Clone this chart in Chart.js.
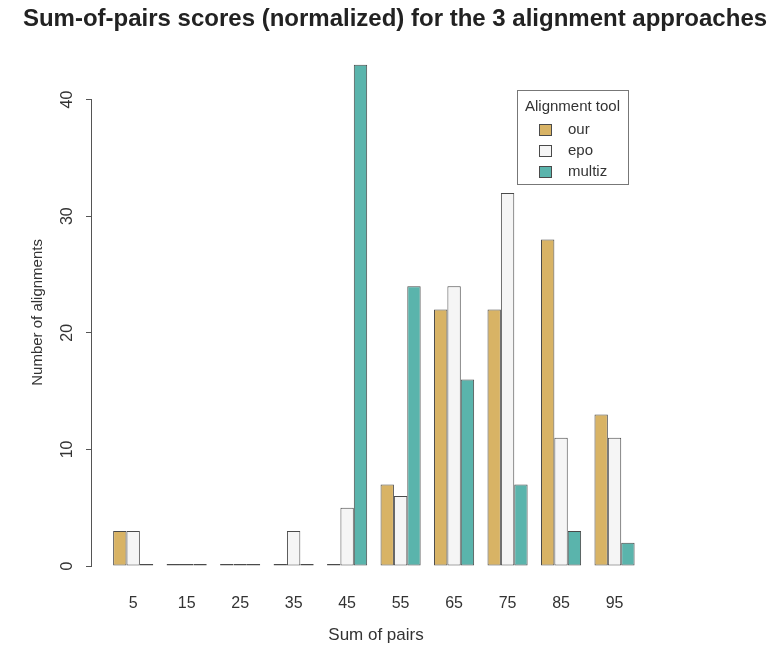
<!DOCTYPE html>
<html>
<head>
<meta charset="utf-8">
<script src="https://cdn.jsdelivr.net/npm/chart.js@4.4.1/dist/chart.umd.min.js"></script>
<style>
  html, body { margin: 0; padding: 0; background: #fff; }
  #wrap { width: 770px; height: 647px; }
</style>
</head>
<body>
<div id="wrap"><canvas id="spChart" width="770" height="647"></canvas></div>
<script>
// values
const sumBins = [5, 15, 25, 35, 45, 55, 65, 75, 85, 95];
const ourCounts = [3, 0, 0, 0, 0, 7, 22, 22, 28, 13];
const epoCounts = [3, 0, 0, 3, 5, 6, 24, 32, 11, 11];
const multizCounts = [0, 0, 0, 0, 43, 24, 16, 7, 3, 2];
const yTicks = [0, 10, 20, 30, 40];
const toolNames = ['our', 'epo', 'multiz'];
const toolColors = ['#D8B365', '#F5F5F5', '#5AB4AC'];

const FONT = "'Liberation Sans', Arial, sans-serif";
const edge = '#4a4a4a';

// R style y axis line: only from first to last tick
const axisLine = {
    id: 'axisLine',
    afterDraw(chart) {
        const y = chart.scales.y;
        const ctx = chart.ctx;
        ctx.save();
        ctx.strokeStyle = '#555';
        ctx.lineWidth = 1;
        ctx.beginPath();
        ctx.moveTo(y.right - 0.5, y.getPixelForValue(yTicks[0]));
        ctx.lineTo(y.right - 0.5, y.getPixelForValue(yTicks[yTicks.length - 1]));
        ctx.stroke();
        ctx.restore();
    }
};

// boxed legend with title, like R legend()
const boxLegend = {
    id: 'boxLegend',
    afterDraw(chart) {
        const ctx = chart.ctx;
        const left = 517, top = 90, w = 111, h = 94;
        ctx.save();
        ctx.strokeStyle = '#777';
        ctx.lineWidth = 1;
        ctx.strokeRect(left + 0.5, top + 0.5, w, h);
        ctx.fillStyle = '#333';
        ctx.font = '15px ' + FONT;
        ctx.textAlign = 'center';
        ctx.textBaseline = 'middle';
        ctx.fillText('Alignment tool', left + w / 2, top + 17);
        ctx.textAlign = 'left';
        chart.data.datasets.forEach((ds, i) => {
            const cy = top + 40 + i * 21;
            ctx.fillStyle = ds.backgroundColor;
            ctx.fillRect(539, cy - 6, 13, 12);
            ctx.strokeStyle = edge;
            ctx.strokeRect(539.5, cy - 5.5, 12, 11);
            ctx.fillStyle = '#333';
            ctx.fillText(ds.label, 568, cy);
        });
        ctx.restore();
    }
};

const datasets = [ourCounts, epoCounts, multizCounts].map((vals, i) => ({
    label: toolNames[i],
    data: vals,
    backgroundColor: toolColors[i],
    borderColor: edge,
    borderWidth: 1,
    borderSkipped: false,
    minBarLength: 2,
    clip: false
}));

new Chart(document.getElementById('spChart'), {
    type: 'bar',
    data: { labels: sumBins, datasets: datasets },
    plugins: [axisLine, boxLegend],
    options: {
        responsive: false,
        animation: false,
        categoryPercentage: 0.75,
        barPercentage: 1,
        layout: { padding: { left: 20, right: 0, top: 0, bottom: 0 } },
        plugins: {
            legend: { display: false },
            tooltip: { enabled: false },
            title: {
                display: true,
                text: 'Sum-of-pairs scores (normalized) for the 3 alignment approaches',
                color: '#222',
                font: { family: FONT, size: 24, weight: 'bold' },
                padding: { top: 5, bottom: 25 }
            }
        },
        scales: {
            x: {
                type: 'linear',
                offset: false,
                min: -2.7,
                max: 103.5,
                grid: { display: false },
                border: { display: false },
                afterBuildTicks: (s) => { s.ticks = sumBins.map(v => ({ value: v })); },
                afterFit: (s) => { s.height = 81; },
                ticks: {
                    color: '#333',
                    padding: 20,
                    autoSkip: false,
                    maxRotation: 0,
                    font: { family: FONT, size: 16 }
                },
                title: {
                    display: true,
                    text: 'Sum of pairs',
                    color: '#333',
                    font: { family: FONT, size: 17 },
                    padding: { top: 0, bottom: 1 }
                }
            },
            y: {
                min: 0,
                max: 43.5,
                border: { display: false },
                grid: {
                    drawOnChartArea: false,
                    drawTicks: true,
                    tickLength: 6,
                    color: '#555'
                },
                afterBuildTicks: (s) => { s.ticks = yTicks.map(v => ({ value: v })); },
                afterFit: (s) => { s.width = 72; },
                ticks: {
                    color: '#333',
                    padding: 10,
                    minRotation: 90,
                    maxRotation: 90,
                    crossAlign: 'center',
                    autoSkip: false,
                    font: { family: FONT, size: 16 }
                },
                title: {
                    display: true,
                    text: 'Number of alignments',
                    color: '#333',
                    font: { family: FONT, size: 15 },
                    padding: { top: 9, bottom: 0 }
                }
            },
            // empty right-hand axis that only reserves the margin R leaves there
            yRight: {
                position: 'right',
                grid: { display: false },
                border: { display: false },
                ticks: { display: false },
                afterFit: (s) => { s.width = 110; }
            }
        }
    }
});
</script>
</body>
</html>
